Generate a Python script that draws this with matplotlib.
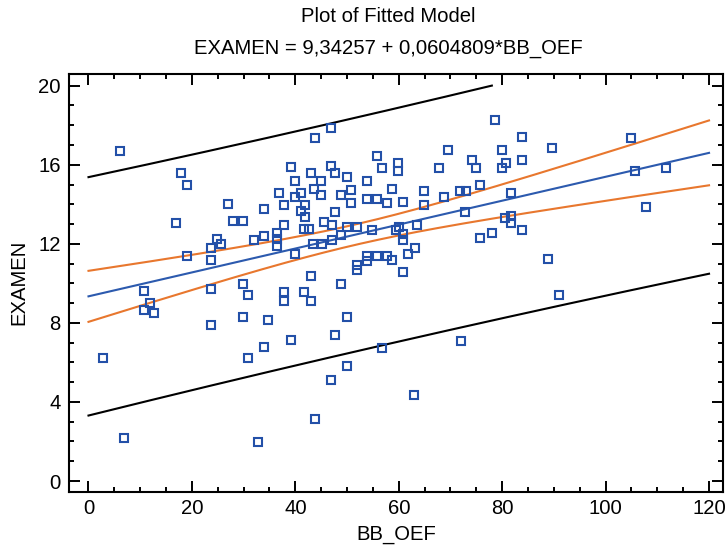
import numpy as np
import matplotlib.pyplot as plt
from matplotlib.ticker import MultipleLocator

bb_oef = [6.1, 17.8, 19.0, 26.9, 33.9, 17.0, 28.0, 29.9, 24.8, 25.6,
          32.1, 33.9, 23.7, 19.0, 23.7,
          46.8, 43.8, 69.6, 55.8, 74.1, 74.9, 67.7, 56.8, 59.9, 59.9,
          39.1, 46.9, 47.7, 43.0, 50.0, 39.9, 44.9, 53.9, 75.8, 58.7,
          43.7, 36.8, 41.0, 50.8, 45.0, 48.8, 64.9, 71.8, 73.0, 68.8,
          39.9, 37.9, 41.8, 50.8, 53.9, 55.8, 57.8, 60.9, 64.9, 41.0,
          41.8, 47.7, 72.8, 37.8, 41.7, 42.6, 45.6, 47.0, 50.0, 52.0,
          54.8, 60.0, 63.6, 36.5, 36.5, 36.5, 43.5, 45.1, 47.0, 48.8,
          59.5, 60.9, 60.9, 63.1, 61.8, 75.8, 39.9, 53.9, 55.8, 57.8,
          53.9, 58.6, 52.0, 52.0, 60.9, 43.0,
          78.6, 83.8, 105.0, 79.9, 89.7, 80.7, 83.8, 79.9, 105.7, 111.7,
          81.8, 107.8, 80.5, 81.8, 81.8, 83.8, 78.0, 88.9,
          10.8, 11.9, 10.8, 12.7, 23.7, 29.9, 30.8, 23.7, 29.9, 34.8,
          2.9, 30.8, 33.9, 6.9, 32.7,
          37.8, 37.8, 41.7, 43.0, 48.8, 50.0, 39.1, 47.7, 56.8, 50.0,
          46.9, 72.0, 62.9, 43.8, 90.9]
examen = [16.7, 15.6, 15.0, 14.0, 13.75, 13.05, 13.13, 13.13, 12.23, 12.0,
          12.2, 12.4, 11.8, 11.37, 11.19,
          17.88, 17.34, 16.75, 16.43, 16.22, 15.82, 15.82, 15.82, 16.1, 15.67,
          15.9, 15.93, 15.6, 15.6, 15.4, 15.2, 15.2, 15.2, 14.97, 14.79,
          14.79, 14.57, 14.58, 14.7, 14.48, 14.48, 14.67, 14.67, 14.67, 14.36,
          14.35, 13.96, 13.96, 14.08, 14.25, 14.25, 14.04, 14.14, 13.96, 13.65,
          13.37, 13.62, 13.62, 12.93, 12.74, 12.74, 13.11, 12.94, 12.84, 12.84,
          12.71, 12.84, 12.94, 12.57, 12.22, 11.88, 12.0, 12.0, 12.17, 12.44,
          12.72, 12.5, 12.17, 11.8, 11.49, 12.28, 11.46, 11.37, 11.37, 11.37,
          11.12, 11.17, 10.92, 10.66, 10.56, 10.39,
          18.27, 17.42, 17.34, 16.73, 16.83, 16.1, 16.22, 15.82, 15.68, 15.82,
          14.58, 13.86, 13.32, 13.43, 13.03, 12.72, 12.54, 11.25,
          9.63, 9.0, 8.67, 8.5, 9.73, 9.95, 9.43, 7.87, 8.28, 8.16,
          6.22, 6.22, 6.76, 2.2, 1.99,
          9.55, 9.13, 9.55, 9.13, 9.95, 8.28, 7.15, 7.37, 6.73, 5.8,
          5.09, 7.06, 4.36, 3.13, 9.43]

# fitted model (from the title) and band parameters
intercept = 9.34257
slope = 0.0604809
t_s = 5.89          # t * residual std error
x_mean = 51.8
s_xx = 66580.0
n_obs = 130
x_grid = np.linspace(0, 120, 241)

fit = intercept + slope * x_grid
se_mean = np.sqrt(1 / n_obs + (x_grid - x_mean) ** 2 / s_xx)
conf_hi = fit + t_s * se_mean
conf_lo = fit - t_s * se_mean
pred_hi = fit + t_s * np.sqrt(1 + se_mean ** 2)
pred_lo = fit - t_s * np.sqrt(1 + se_mean ** 2)
pred_hi = np.where(pred_hi <= 20.02, pred_hi, np.nan)

plt.rcParams['font.family'] = ['Liberation Sans', 'DejaVu Sans']
fs = 14.6

fig = plt.figure(figsize=(7.27, 5.49), dpi=100)
ax = fig.add_axes([69 / 727, 1 - 491.7 / 549, (723 - 69) / 727, (491.7 - 74) / 549])

ax.plot(x_grid, pred_hi, color='black', lw=1.5)
ax.plot(x_grid, pred_lo, color='black', lw=1.5)
ax.plot(x_grid, conf_hi, color='#e8772e', lw=1.5)
ax.plot(x_grid, conf_lo, color='#e8772e', lw=1.5)
ax.plot(x_grid, fit, color='#2c5aae', lw=1.5)
ax.plot(bb_oef, examen, linestyle='none', marker='s', markersize=5.4,
        markerfacecolor='none', markeredgecolor='#2350a8', markeredgewidth=1.5)

ax.set_xlim(-3.77, 122.7)
ax.set_ylim(-0.54, 20.59)
ax.xaxis.set_major_locator(MultipleLocator(20))
ax.xaxis.set_minor_locator(MultipleLocator(5))
ax.yaxis.set_major_locator(MultipleLocator(4))
ax.yaxis.set_minor_locator(MultipleLocator(1))
ax.tick_params(which='both', direction='in', top=True, right=True, width=1.4,
               labelsize=fs)
ax.tick_params(which='major', length=8)
ax.tick_params(which='minor', length=3.6)
ax.tick_params(axis='x', pad=5)
ax.tick_params(axis='y', pad=6)
for sp in ax.spines.values():
    sp.set_linewidth(1.5)

ax.set_xlabel('BB_OEF', fontsize=fs, labelpad=5)
ax.set_ylabel('EXAMEN', fontsize=fs, labelpad=7)

fig.text(388 / 727, 1 - 17 / 549, 'Plot of Fitted Model', ha='center', va='center', fontsize=fs)
fig.text(388 / 727, 1 - 48 / 549, 'EXAMEN = 9,34257 + 0,0604809*BB_OEF', ha='center',
         va='center', fontsize=fs)

fig.savefig('out.png', dpi=100)
